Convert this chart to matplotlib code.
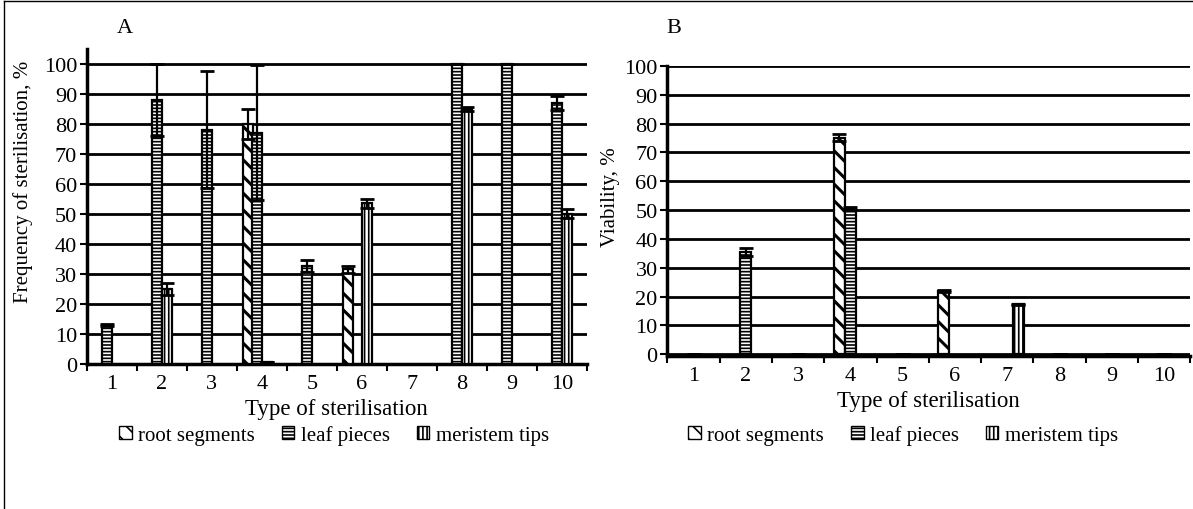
import numpy as np
import matplotlib
matplotlib.use('Agg')
import matplotlib.pyplot as plt
from matplotlib.patches import Patch
from matplotlib.lines import Line2D

# data
types = ['1', '2', '3', '4', '5', '6', '7', '8', '9', '10']
series = ['root segments', 'leaf pieces', 'meristem tips']

# panel A: frequency of sterilisation, %
root_a = [0, 0, 0, 80, 0, 31.5, 0, 0, 0, 0]
leaf_a = [13, 88, 78, 77, 32.5, 0, 0, 100, 100, 87]
mer_a = [0, 25, 0, 0.6, 0, 53.5, 0, 85, 0, 50]
root_a_err = [np.nan, np.nan, np.nan, 5, np.nan, 1.2, np.nan, np.nan, np.nan, np.nan]
leaf_a_err = [0.4, 12, 19.5, 22.5, 2, np.nan, np.nan, 0, 0, 2.3]
mer_a_err = [np.nan, 2, np.nan, 0, np.nan, 1.4, np.nan, 0.8, np.nan, 1.5]

# panel B: viability, %
root_b = [0, 0, 0, 75, 0, 22, 0, 0, 0, 0]
leaf_b = [0, 35.5, 0, 50.5, 0, 0, 0, 0, 0, 0]
mer_b = [0, 0, 0, 0, 0, 0, 17.3, 0, 0, 0]
root_b_err = [np.nan, np.nan, np.nan, 1.2, np.nan, 0.4, np.nan, np.nan, np.nan, np.nan]
leaf_b_err = [0, 1.5, 0, 0.4, 0, np.nan, np.nan, 0, 0, 0]
mer_b_err = [np.nan] * 6 + [0.3] + [np.nan] * 3

plt.rcParams['font.family'] = 'Liberation Serif'
plt.rcParams['hatch.linewidth'] = 1.2
plt.rcParams['hatch.color'] = 'black'

hatches = ['\\\\', '-----', '||||']
hatch_lw = [2.2, 1.2, 1.2]

fig = plt.figure(figsize=(11.93, 5.10), dpi=100)
ax_a = fig.add_axes([0.0727, 0.2843, 0.4192, 0.6177])
ax_b = fig.add_axes([0.5594, 0.300, 0.4383, 0.569])

x = np.arange(len(types))


def draw_panel(ax, vals, errs, offsets, w, ylim, ylabel, label_xy):
    for v, e, off, h, hl in zip(vals, errs, offsets, hatches, hatch_lw):
        v = np.array(v, dtype=float)
        keep = v > 0
        bars = ax.bar(x[keep] + off, v[keep], w, color='white', edgecolor='black',
                      linewidth=1.6, hatch=h, zorder=3)
        for b in bars:
            try:
                b.set_hatch_linewidth(hl)
            except AttributeError:
                pass
        ax.errorbar(x + off, v, yerr=e, fmt='none', ecolor='black',
                    elinewidth=1.6, capsize=5, capthick=2, zorder=4)
    ax.set_xlim(-0.5, len(types) - 0.5)
    ax.set_ylim(*ylim)
    ax.set_yticks(range(0, 101, 10))
    ax.set_xticks(x)
    ax.set_xticklabels(types)
    ax.set_xticks(np.arange(-0.5, len(types), 1), minor=True)
    ax.tick_params(axis='x', which='major', length=0, labelsize=16, pad=7)
    ax.tick_params(axis='x', which='minor', length=5, width=1.5, direction='out')
    ax.tick_params(axis='y', length=5, width=1.5, labelsize=16, pad=2)
    ax.yaxis.grid(True, color='black', linewidth=2, zorder=0)
    ax.set_axisbelow(True)
    for s in ['top', 'right']:
        ax.spines[s].set_visible(False)
    for s in ['left', 'bottom']:
        ax.spines[s].set_linewidth(2.5)
    ax.set_xlabel('Type of sterilisation', fontsize=16.5, labelpad=4)
    ax.set_ylabel(ylabel, fontsize=15)
    ax.yaxis.set_label_coords(*label_xy)


draw_panel(ax_a, [root_a, leaf_a, mer_a], [root_a_err, leaf_a_err, mer_a_err],
           [-0.28, -0.1, 0.1], 0.2, (0, 105), 'Frequency of sterilisation, %',
           (-0.108, 0.58))
draw_panel(ax_b, [root_b, leaf_b, mer_b], [root_b_err, leaf_b_err, mer_b_err],
           [-0.21, 0, 0.21], 0.21, (-0.6, 100), 'Viability, %',
           (-0.09, 0.55))

fig.text(0.105, 0.945, 'A', fontsize=16, ha='center', va='center')
fig.text(0.565, 0.945, 'B', fontsize=16, ha='center', va='center')

handles = [Patch(facecolor='white', edgecolor='black', hatch=h, linewidth=1)
           for h in hatches]
for cx in [0.28, 0.757]:
    fig.legend(handles, series, loc='center', bbox_to_anchor=(cx, 0.145),
               ncol=3, frameon=False, fontsize=15, handlelength=0.6,
               handleheight=0.6, handletextpad=0.3, columnspacing=1.3)

# frame around the figure
fig.add_artist(Line2D([0.003, 0.003], [0, 0.997], color='black', lw=1,
                      transform=fig.transFigure))
fig.add_artist(Line2D([0.003, 1], [0.997, 0.997], color='black', lw=1,
                      transform=fig.transFigure))

fig.savefig('out.png', dpi=100)
